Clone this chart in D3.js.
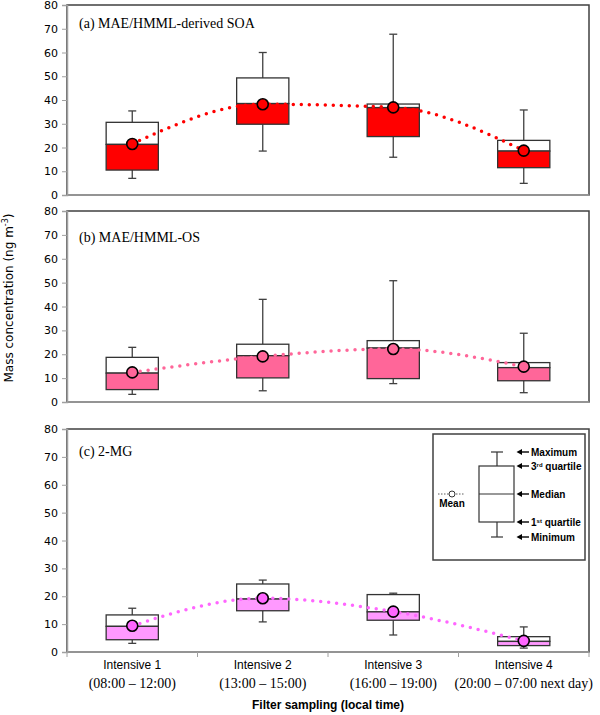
<!DOCTYPE html>
<html>
<head>
<meta charset="utf-8">
<script src="https://cdn.jsdelivr.net/npm/d3@7"></script>
<style>
  body { margin: 0; background: #fff; }
  .tick-label { font-family: "DejaVu Sans", Verdana, sans-serif; font-size: 11px; fill: #000; }
  .panel-title { font-family: "Liberation Serif", "Times New Roman", serif; font-size: 14px; fill: #000; }
  .legend-text { font-family: "Liberation Sans", Arial, sans-serif; font-size: 10px; font-weight: bold; fill: #000; }
</style>
</head>
<body>
<script>
'use-strict';

// categories on the x axis
let categories = ["Intensive 1", "Intensive 2", "Intensive 3", "Intensive 4"];
let timeRanges = ["(08:00 \u2013 12:00)", "(13:00 \u2013 15:00)", "(16:00 \u2013 19:00)", "(20:00 \u2013 07:00 next day)"];
let yTicks = [0, 10, 20, 30, 40, 50, 60, 70, 80];

// (a) MAE/HMML-derived SOA
let soaMin = [7.0, 18.5, 15.9, 4.9];
let soaQ1 = [10.5, 29.8, 24.6, 11.5];
let soaMedian = [21.3, 38.5, 36.8, 18.5];
let soaQ3 = [30.6, 49.3, 38.3, 23.0];
let soaMax = [35.4, 60.0, 67.7, 35.8];
let soaMean = [21.5, 38.2, 36.9, 18.7];

// (b) MAE/HMML-OS
let osMin = [3.2, 4.7, 7.7, 3.9];
let osQ1 = [5.2, 10.1, 9.8, 8.9];
let osMedian = [12.1, 19.4, 22.6, 14.4];
let osQ3 = [18.7, 24.2, 25.7, 16.5];
let osMax = [22.9, 43.0, 50.8, 28.8];
let osMean = [12.4, 19.1, 22.2, 14.8];

// (c) 2-MG
let mgMin = [3.1, 10.8, 6.1, 1.4];
let mgQ1 = [4.4, 14.8, 11.4, 2.3];
let mgMedian = [9.2, 19.0, 14.4, 3.8];
let mgQ3 = [13.3, 24.4, 20.6, 5.5];
let mgMax = [15.7, 25.8, 21.1, 9.0];
let mgMean = [9.4, 19.3, 14.5, 4.0];

let width = 600, height = 715;
let plotLeft = 67, plotRight = 589;

let svgContainer = d3.select("body")
  .append("svg")
  .attr("width", width)
  .attr("height", height);

// shared x scale
let xScale = d3.scaleBand()
  .domain(categories)
  .range([plotLeft, plotRight]);

let panels = [
  { title: "(a) MAE/HMML-derived SOA", top: 5, bottom: 195, titleDy: 23,
    fill: "#ff0000", marker: "#ff0000",
    min: soaMin, q1: soaQ1, median: soaMedian, q3: soaQ3, max: soaMax, mean: soaMean },
  { title: "(b)  MAE/HMML-OS", top: 211, bottom: 402, titleDy: 31,
    fill: "#ff6699", marker: "#ff6699",
    min: osMin, q1: osQ1, median: osMedian, q3: osQ3, max: osMax, mean: osMean },
  { title: "(c) 2-MG", top: 429, bottom: 652, titleDy: 27,
    fill: "#ff99ff", marker: "#ff66ff",
    min: mgMin, q1: mgQ1, median: mgMedian, q3: mgQ3, max: mgMax, mean: mgMean }
];

panels.forEach((p, i) => drawPanel(p, i == panels.length - 1));
drawLegend();
drawLabels();

// draws one box plot panel
function drawPanel(p, lastPanel) {
  let yScale = d3.scaleLinear()
    .domain([0, 80])
    .range([p.bottom, p.top]);

  let g = svgContainer.append("g");

  // frame
  g.append("rect")
    .attr("x", plotLeft)
    .attr("y", p.top)
    .attr("width", plotRight - plotLeft)
    .attr("height", p.bottom - p.top)
    .attr("fill", "none")
    .attr("stroke", "#404040")
    .attr("stroke-width", 1.5);

  // y axis
  let yAxis = d3.axisLeft(yScale)
    .tickValues(yTicks)
    .tickSize(5)
    .tickPadding(4);
  let ya = g.append("g")
    .attr("transform", "translate(" + plotLeft + ",0)")
    .call(yAxis);
  ya.select(".domain").attr("stroke", "#a0a0a0").attr("stroke-width", 1.5);
  ya.selectAll(".tick line").attr("stroke", "#a0a0a0");
  ya.selectAll(".tick text").attr("class", "tick-label").attr("font-family", null).attr("font-size", null);

  // x axis with ticks on category boundaries (bottom panel)
  let xa = g.append("g")
    .attr("transform", "translate(0," + p.bottom + ")");
  xa.append("line")
    .attr("x1", plotLeft).attr("x2", plotRight)
    .attr("stroke", "#a0a0a0").attr("stroke-width", 1.5);
  if (lastPanel) {
    let bounds = categories.map(c => xScale(c)).concat([xScale.range()[1]]);
    xa.selectAll(".xtick")
      .data(bounds)
      .enter()
      .append("line")
      .attr("x1", d => d).attr("x2", d => d)
      .attr("y1", 0).attr("y2", 5)
      .attr("stroke", "#a0a0a0");
  }

  let boxW = xScale.bandwidth() * 0.4;
  let capW = 8;
  let cx = (i) => xScale(categories[i]) + xScale.bandwidth() / 2;

  categories.forEach((c, i) => {
    let x = cx(i);
    // whiskers
    g.append("line")
      .attr("x1", x).attr("x2", x)
      .attr("y1", yScale(p.max[i])).attr("y2", yScale(p.q3[i]))
      .attr("stroke", "#404040").attr("stroke-width", 1.3);
    g.append("line")
      .attr("x1", x).attr("x2", x)
      .attr("y1", yScale(p.q1[i])).attr("y2", yScale(p.min[i]))
      .attr("stroke", "#404040").attr("stroke-width", 1.3);
    [p.max[i], p.min[i]].forEach(v => {
      g.append("line")
        .attr("x1", x - capW / 2).attr("x2", x + capW / 2)
        .attr("y1", yScale(v)).attr("y2", yScale(v))
        .attr("stroke", "#404040").attr("stroke-width", 1.3);
    });
    // upper part of the box (white)
    g.append("rect")
      .attr("x", x - boxW / 2)
      .attr("y", yScale(p.q3[i]))
      .attr("width", boxW)
      .attr("height", yScale(p.median[i]) - yScale(p.q3[i]))
      .attr("fill", "#fff")
      .attr("stroke", "#333")
      .attr("stroke-width", 1.3);
    // lower part of the box (coloured)
    g.append("rect")
      .attr("x", x - boxW / 2)
      .attr("y", yScale(p.median[i]))
      .attr("width", boxW)
      .attr("height", yScale(p.q1[i]) - yScale(p.median[i]))
      .attr("fill", p.fill)
      .attr("stroke", "#333")
      .attr("stroke-width", 1.3);
  });

  // dotted mean line
  let line = d3.line()
    .x((d, i) => cx(i))
    .y(d => yScale(d))
    .curve(d3.curveMonotoneX);
  g.append("path")
    .datum(p.mean)
    .attr("d", line)
    .attr("fill", "none")
    .attr("stroke", p.marker)
    .attr("stroke-width", 3.5)
    .attr("stroke-linecap", "round")
    .attr("stroke-dasharray", "0,8");

  // mean markers
  g.selectAll(".mean")
    .data(p.mean)
    .enter()
    .append("circle")
    .attr("cx", (d, i) => cx(i))
    .attr("cy", d => yScale(d))
    .attr("r", 5.5)
    .attr("fill", p.marker)
    .attr("stroke", "#000")
    .attr("stroke-width", 1.6);

  // panel title
  g.append("text")
    .attr("class", "panel-title")
    .attr("x", 79)
    .attr("y", p.top + p.titleDy)
    .text(p.title);
}

// draws the explanation box in the bottom panel
function drawLegend() {
  let lg = svgContainer.append("g");
  lg.append("rect")
    .attr("x", 433).attr("y", 434)
    .attr("width", 152).attr("height", 126)
    .attr("fill", "#fff")
    .attr("stroke", "#404040")
    .attr("stroke-width", 1.5);

  let lx = 497, bx0 = 479, bx1 = 514;
  let yMax = 452, yQ3 = 466, yMed = 494, yQ1 = 522, yMin = 537;
  let st = "#333";
  lg.append("line").attr("x1", lx).attr("x2", lx).attr("y1", yMax).attr("y2", yQ3).attr("stroke", st).attr("stroke-width", 1.2);
  lg.append("line").attr("x1", lx).attr("x2", lx).attr("y1", yQ1).attr("y2", yMin).attr("stroke", st).attr("stroke-width", 1.2);
  lg.append("line").attr("x1", lx - 6).attr("x2", lx + 6).attr("y1", yMax).attr("y2", yMax).attr("stroke", st).attr("stroke-width", 1.2);
  lg.append("line").attr("x1", lx - 6).attr("x2", lx + 6).attr("y1", yMin).attr("y2", yMin).attr("stroke", st).attr("stroke-width", 1.2);
  lg.append("rect").attr("x", bx0).attr("y", yQ3).attr("width", bx1 - bx0).attr("height", yQ1 - yQ3)
    .attr("fill", "none").attr("stroke", st).attr("stroke-width", 1.2);
  lg.append("line").attr("x1", bx0).attr("x2", bx1).attr("y1", yMed).attr("y2", yMed).attr("stroke", st).attr("stroke-width", 1.2);

  // arrow labels
  let items = [
    { y: yMax, text: "Maximum" },
    { y: yQ3, text: "3", sup: "rd", rest: " quartile" },
    { y: yMed, text: "Median" },
    { y: yQ1, text: "1", sup: "st", rest: " quartile" },
    { y: yMin, text: "Minimum" }
  ];
  items.forEach(it => {
    lg.append("line")
      .attr("x1", 519).attr("x2", 529)
      .attr("y1", it.y).attr("y2", it.y)
      .attr("stroke", "#000").attr("stroke-width", 1.4);
    lg.append("path")
      .attr("d", "M516.5," + it.y + "L522," + (it.y - 3) + "L522," + (it.y + 3) + "Z")
      .attr("fill", "#000");
    let t = lg.append("text")
      .attr("class", "legend-text")
      .attr("x", 531)
      .attr("y", it.y + 3.5)
      .text(it.text);
    if (it.sup) {
      t.append("tspan").attr("font-size", "6px").attr("dy", -3).text(it.sup);
      t.append("tspan").attr("dy", 3).text(it.rest);
    }
  });

  // mean symbol
  lg.append("line")
    .attr("x1", 438).attr("x2", 465)
    .attr("y1", yMed).attr("y2", yMed)
    .attr("stroke", "#333").attr("stroke-width", 0.8)
    .attr("stroke-dasharray", "1.5,1.5");
  lg.append("circle")
    .attr("cx", 452).attr("cy", yMed).attr("r", 3)
    .attr("fill", "#fff").attr("stroke", "#333").attr("stroke-width", 1);
  lg.append("text")
    .attr("class", "legend-text")
    .attr("x", 452).attr("y", yMed + 13)
    .attr("text-anchor", "middle")
    .text("Mean");
}

// draws category and axis labels
function drawLabels() {
  categories.forEach((c, i) => {
    let x = xScale(c) + xScale.bandwidth() / 2;
    svgContainer.append("text")
      .attr("x", x).attr("y", 669)
      .attr("text-anchor", "middle")
      .style("font-family", "'Liberation Sans', Arial, sans-serif")
      .style("font-size", "12px")
      .text(c);
    svgContainer.append("text")
      .attr("x", x).attr("y", 688)
      .attr("text-anchor", "middle")
      .style("font-family", "'Liberation Serif', 'Times New Roman', serif")
      .style("font-size", "14px")
      .text(timeRanges[i]);
  });

  svgContainer.append("text")
    .attr("x", (plotLeft + plotRight) / 2).attr("y", 709)
    .attr("text-anchor", "middle")
    .style("font-family", "'Liberation Sans', Arial, sans-serif")
    .style("font-size", "12px")
    .style("font-weight", "bold")
    .text("Filter sampling (local time)");

  // y axis label
  let yl = svgContainer.append("text")
    .attr("transform", "translate(13,298) rotate(-90)")
    .attr("text-anchor", "middle")
    .style("font-family", "'DejaVu Sans', Verdana, sans-serif")
    .style("font-size", "12px")
    .text("Mass concentration (ng m");
  yl.append("tspan").attr("font-size", "8px").attr("dy", -5).text("-3");
  yl.append("tspan").attr("dy", 5).text(")");
}
</script>
</body>
</html>
